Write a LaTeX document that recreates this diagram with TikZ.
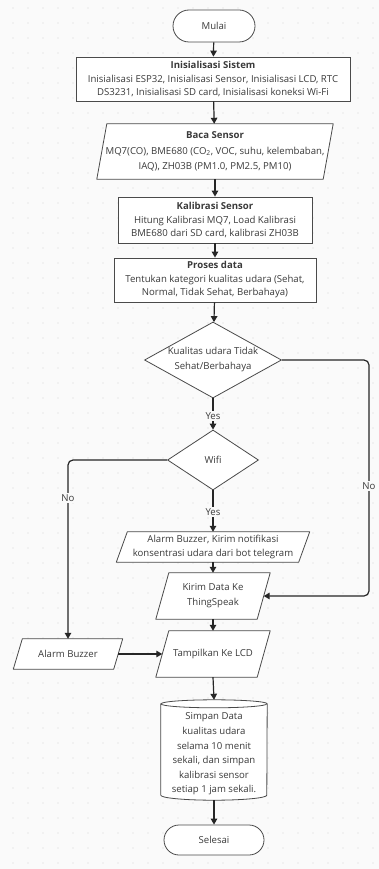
\documentclass[tikz,border=0pt]{standalone}
\usepackage{fontspec}
\setmainfont{Open Sans}
\usetikzlibrary{shapes.geometric,shapes.misc,arrows.meta}
\pgfdeclarelayer{gridlayer}
\pgfdeclarelayer{shapelayer}
\pgfsetlayers{gridlayer,shapelayer,main}
\definecolor{txt}{HTML}{3A3A3A}
\definecolor{edge}{HTML}{4A4A4A}
\definecolor{bgc}{HTML}{FAFAFA}
\definecolor{dotc}{HTML}{D4D4D4}
\tikzset{
 base/.style={font=\fontsize{9.6}{13.5}\selectfont, text=txt, align=center, inner sep=0pt},
 procbox/.style={base, draw=edge, line width=0.8pt, fill=white, rectangle},
 term/.style={base, draw=edge, line width=0.8pt, fill=white, rounded rectangle},
 decide/.style={base, draw=edge, line width=0.8pt, fill=white, diamond, aspect=1.8},
 iobox/.style={base, draw=none, rectangle},
 shapeline/.style={draw=edge, line width=0.8pt, fill=white, line join=round},
 flow/.style={draw=black!85, line width=1.2pt, -{Triangle[length=6pt,width=6.5pt]}},
 lab/.style={base, fill=bgc, inner sep=1.5pt},
}
\newcommand{\drawio}[2]{%
  \draw[shapeline] ([xshift=#2]#1.north west) -- ([xshift=#2]#1.north east) -- ([xshift=-#2]#1.south east) -- ([xshift=-#2]#1.south west) -- cycle;}
\begin{document}
\begin{tikzpicture}[x=1pt,y=-1pt]
\useasboundingbox (0,0) rectangle (379,869);
\begin{pgfonlayer}{gridlayer}
  \fill[bgc] (0,0) rectangle (379,869);
  \foreach \gx in {13,28,...,373} {
    \foreach \gy in {8,23,...,868} {
      \fill[dotc] (\gx,\gy) circle[radius=0.7pt];
    }
  }
\end{pgfonlayer}

% nodes
\node[term, minimum width=82pt, minimum height=32pt] (start) at (214,26) {Mulai};
\node[procbox, minimum width=274pt, minimum height=44pt] (init) at (213,79)
  {\textbf{Inisialisasi Sistem}\\Inisialisasi ESP32, Inisialisasi Sensor, Inisialisasi LCD, RTC\\DS3231, Inisialisasi SD card, Inisialisasi koneksi Wi-Fi};
\node[iobox, minimum width=226pt, minimum height=55pt, font=\fontsize{9.6}{15.5}\selectfont] (read) at (215,151.5)
  {\textbf{Baca Sensor}\\MQ7(CO), BME680 (CO\textsubscript{2}, VOC, suhu, kelembaban,\\IAQ), ZH03B (PM1.0, PM2.5, PM10)};
\node[procbox, minimum width=194pt, minimum height=46pt] (calib) at (215,220)
  {\textbf{Kalibrasi Sensor}\\Hitung Kalibrasi MQ7, Load Kalibrasi\\BME680 dari SD card, kalibrasi ZH03B};
\node[procbox, minimum width=202pt, minimum height=44pt] (proc) at (215,280)
  {\textbf{Proses data}\\Tentukan kategori kualitas udara (Sehat,\\Normal, Tidak Sehat, Berbahaya)};
\node[decide, minimum width=137pt, minimum height=76pt, inner xsep=-6pt, font=\fontsize{9.6}{15}\selectfont] (dec1) at (213,360)
  {Kualitas udara Tidak\\Sehat/Berbahaya};
\node[decide, minimum width=91pt, minimum height=60pt] (wifi) at (213,460) {Wifi};
\node[iobox, minimum width=182pt, minimum height=30pt] (notify) at (213,547)
  {Alarm Buzzer, Kirim notifikasi\\konsentrasi udara dari bot telegram};
\node[iobox, minimum width=101pt, minimum height=46pt, font=\fontsize{9.6}{15}\selectfont] (send) at (213,596)
  {Kirim Data Ke\\ThingSpeak};
\node[iobox, minimum width=101pt, minimum height=46pt] (lcd) at (213,654) {Tampilkan Ke LCD};
\node[iobox, minimum width=100pt, minimum height=30pt] (buzz) at (68,654) {Alarm Buzzer};
\node[iobox, minimum width=106pt, minimum height=100pt] (store) at (214,750) {};
\node[base, font=\fontsize{9.6}{14.6}\selectfont] (storetxt) at (214,754)
  {Simpan Data\\kualitas udara\\selama 10 menit\\sekali, dan simpan\\kalibrasi sensor\\setiap 1 jam sekali.};
\node[term, minimum width=100pt, minimum height=30pt] (end) at (214,840) {Selesai};

% shapes drawn behind text
\begin{pgfonlayer}{shapelayer}
  \drawio{read}{5pt}
  \drawio{notify}{5.5pt}
  \drawio{send}{6.5pt}
  \drawio{lcd}{6.5pt}
  \drawio{buzz}{4.5pt}
  \draw[shapeline] ([yshift=-4pt]store.north west) -- ([yshift=5pt]store.south west)
    arc[start angle=180,end angle=360,x radius=53pt,y radius=5pt]
    -- ([yshift=-4pt]store.north east)
    arc[start angle=0,end angle=180,x radius=53pt,y radius=4pt] -- cycle;
  \draw[draw=edge, line width=0.8pt] ([yshift=-4pt]store.north west)
    arc[start angle=180,end angle=360,x radius=53pt,y radius=4pt];
\end{pgfonlayer}

% connectors
\coordinate (rc) at (369,360);
\draw[flow] (start) -- (init);
\draw[flow] (init) -- (read);
\draw[flow] (read) -- (calib);
\draw[flow] (calib) -- (proc);
\draw[flow] (proc) -- (dec1);
\draw[flow] (dec1.south) -- (wifi.north);
\draw[flow] (wifi.south) -- (notify.north);
\draw[flow] (notify) -- (send);
\draw[flow] (send) -- (lcd);
\draw[flow] (lcd.south) -- (store.north);
\draw[flow] (store.south) -- (end.north);
\draw[flow, rounded corners=5pt] (dec1.east) -- (rc) |- (send.east);
\draw[flow, rounded corners=5pt] (wifi.west) -| (buzz.north);
\draw[flow] (buzz.east) -- (lcd.west);

% labels
\node[lab] (lyes1) at (213,416) {Yes};
\node[lab] (lyes2) at (213,512) {Yes};
\node[lab] (lno1) at (369,486) {No};
\node[lab] (lno2) at (68,498) {No};
\end{tikzpicture}
\end{document}
